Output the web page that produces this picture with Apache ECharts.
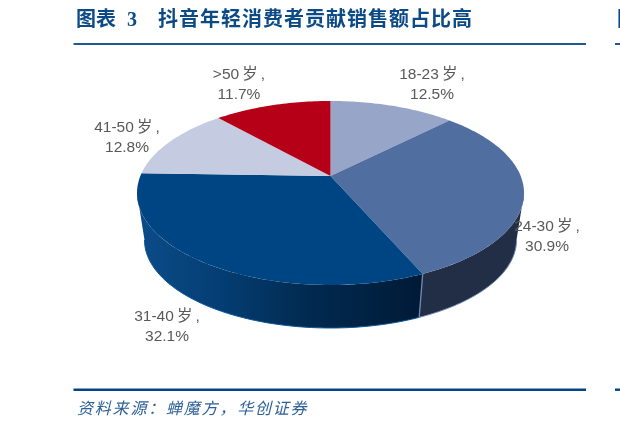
<!DOCTYPE html>
<html><head><meta charset="utf-8">
<style>html,body{margin:0;padding:0;background:#fff}#c{width:620px;height:430px}</style>
<script src="https://cdn.jsdelivr.net/npm/echarts@6/dist/echarts.min.js"></script>
</head><body><div id="c"></div>
<script>
const categories = ['18-23 岁', '24-30 岁', '31-40 岁', '41-50 岁', '>50 岁'];
const shares = [12.5, 30.9, 32.1, 12.8, 11.7];
const titleText = '抖音年轻消费者贡献销售额占比高';
const sourceText = '资料来源：蝉魔方，华创证券';

const faceColors = ['#97A5C8', '#516EA0', '#004583', '#C5CCE1', '#B50018'];
const labelCentres = [[432, 85], [547, 237], [167, 327], [127, 138], [239, 84.5]];
const topRim = {cx: 330.5, cy: 193, rx: 193.5, ry: 92};
const botRim = {cx: 330.5, cy: 240, rx: 186, ry: 88};
const tilt = 0.185;   // perspective shift of the pie's centre
const total = shares.reduce((a, b) => a + b, 0);
const FONT = '"Liberation Sans","Noto Sans CJK SC",sans-serif';
const CJK = '"Liberation Serif","Noto Sans CJK SC",serif';

function startAngle(i) {
  let s = 0;
  for (let k = 0; k < i; k++) s += shares[k];
  return s / total * Math.PI * 2;
}
function norm(t) { // circle angle -> normalised point on the projected ellipse
  const u = Math.sin(t), v = Math.cos(t), d = 1 + tilt * v;
  return [u * Math.sqrt(1 - tilt * tilt) / d, (v + tilt) / d];
}
const at = (e, p) => [e.cx + p[0] * e.rx, e.cy - p[1] * e.ry];

function arc(a, b) {
  const pts = [], n = Math.ceil((b - a) / 0.02);
  for (let k = 0; k <= n; k++) pts.push(norm(a + (b - a) * k / n));
  return pts;
}
const frontEdge = Math.acos(-tilt);   // where the rim turns to the front

function wall(params, api) {
  const i = params.dataIndex;
  const a = Math.max(startAngle(i), frontEdge);
  const b = Math.min(startAngle(i) + api.value(0) / total * Math.PI * 2, Math.PI * 2 - frontEdge);
  if (b <= a) return;
  const rim = arc(a, b);
  const pts = rim.map(p => at(topRim, p)).concat(rim.slice().reverse().map(p => at(botRim, p)));
  const bottom = rim.map(p => at(botRim, p));
  const seam = [at(topRim, rim[0]), at(botRim, rim[0])];
  const fill = i === 2
    ? new echarts.graphic.LinearGradient(0, 0, 1, 0, [
        {offset: 0, color: '#0B4C89'}, {offset: 0.3, color: '#043D72'},
        {offset: 0.6, color: '#012A50'}, {offset: 1, color: '#001A36'}])
    : '#212E45';
  const children = [
    {type: 'polygon', shape: {points: pts}, style: {fill: fill}},
    {type: 'polyline', shape: {points: bottom}, style: {fill: null, stroke: i === 2 ? '#0A5697' : '#6F88B8', lineWidth: 1}}
  ];
  if (i === 2) children.push({type: 'polyline', shape: {points: seam}, style: {fill: null, stroke: '#7189B5', lineWidth: 1.3}, z2: 5});
  return {type: 'group', children: children};
}
function face(params, api) {
  const i = params.dataIndex;
  const a = startAngle(i), b = a + api.value(0) / total * Math.PI * 2;
  const apex = at(topRim, [0, tilt]);
  const pts = [apex].concat(arc(a, b).map(p => at(topRim, p)));
  return {type: 'polygon', shape: {points: pts}, style: {fill: faceColors[i]}};
}
function label(params, api) {
  const i = params.dataIndex;
  const name = categories[i].replace(' ', '\u2009') + '\u2009,';
  return {type: 'text', x: labelCentres[i][0], y: labelCentres[i][1], style: {
    text: name + '\n' + api.value(0).toFixed(1) + '%',
    fill: '#595959', font: '15.5px ' + FONT, align: 'center', verticalAlign: 'middle', lineHeight: 20
  }};
}
function spaced(str, x0, pitch, y, fill, font) {
  return Array.from(str).map((ch, k) => ({
    type: 'text', x: x0 + k * pitch, y: y,
    style: {text: ch, fill: fill, font: font, verticalAlign: 'middle'}
  }));
}
const rows = shares.map(v => [v]);
const chart = echarts.init(document.getElementById('c'), null, {renderer: 'canvas', width: 620, height: 430});
const navy = '#0B4A84';
const titleFont = 'bold 20px ' + CJK;
chart.setOption({
  animation: false,
  backgroundColor: '#fff',
  series: [
    {type: 'custom', coordinateSystem: 'none', data: rows, renderItem: wall, z: 1, silent: true},
    {type: 'custom', coordinateSystem: 'none', data: rows, renderItem: face, z: 2, silent: true},
    {type: 'custom', coordinateSystem: 'none', data: rows, renderItem: label, z: 3, silent: true}
  ],
  graphic: [
    {type: 'text', x: 76, y: 20.5, style: {text: '图表', fill: navy, font: titleFont, verticalAlign: 'middle'}},
    {type: 'text', x: 127, y: 20.5, style: {text: '3', fill: navy, font: 'bold 20px "Liberation Serif"', verticalAlign: 'middle'}},
    {type: 'text', x: 617, y: 20.5, style: {text: '图', fill: navy, font: titleFont, verticalAlign: 'middle'}},
    {type: 'rect', shape: {x: 73.5, y: 43, width: 512.5, height: 2}, style: {fill: '#1F5A96'}},
    {type: 'rect', shape: {x: 615, y: 43, width: 5, height: 2}, style: {fill: '#1F5A96'}},
    {type: 'rect', shape: {x: 73.5, y: 388.5, width: 512.5, height: 2.4}, style: {fill: '#004583'}},
    {type: 'rect', shape: {x: 615, y: 388.5, width: 5, height: 2.4}, style: {fill: '#004583'}}
  ].concat(
    spaced(titleText, 158, 21, 20.5, navy, titleFont),
    spaced(sourceText, 77, 17.8, 410, '#2D6098', 'italic 16px ' + CJK)
  )
});
</script></body></html>
